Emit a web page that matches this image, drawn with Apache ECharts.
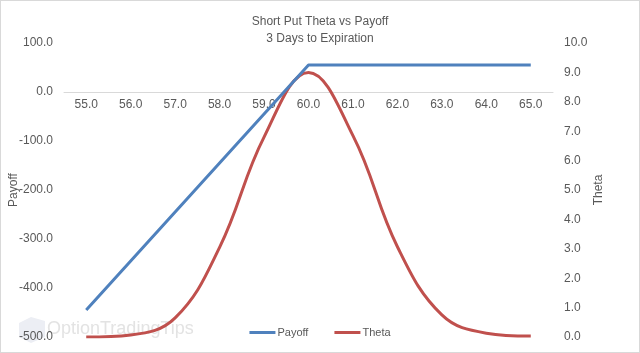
<!DOCTYPE html>
<html>
<head>
<meta charset="utf-8">
<script src="https://cdn.jsdelivr.net/npm/echarts@6/dist/echarts.min.js"></script>
<style>
html,body{margin:0;padding:0;background:#fff;}
#c{width:640px;height:353px;box-sizing:border-box;border:1px solid #d9d9d9;}
</style>
</head>
<body>
<div id="c"></div>
<script>
var categories = ['55.0','56.0','57.0','58.0','59.0','60.0','61.0','62.0','63.0','64.0','65.0'];
var payoff = [-445, -345, -245, -145, -45, 55, 55, 55, 55, 55, 55];
var theta = [0.0, 0.07, 0.65, 3.05, 6.8, 9.0, 6.85, 3.07, 0.75, 0.13, 0.03];
var payoffTicks = {min: -500, max: 100, interval: 100};
var thetaTicks = {min: 0, max: 10, interval: 1};

var FONT = 'Liberation Sans';
var chart = echarts.init(document.getElementById('c'), null, {renderer: 'canvas'});
var gridTop = 42, gridBottom = 15, chartH = 351;
var plotH = chartH - gridTop - gridBottom;
var zeroOffset = plotH * (payoffTicks.max - 0) / (payoffTicks.max - payoffTicks.min);
chart.setOption({
  animation: false,
  textStyle: {fontFamily: FONT},
  title: {
    text: 'Short Put Theta vs Payoff\n3 Days to Expiration',
    left: 'center',
    top: 7,
    textStyle: {fontFamily: FONT, fontSize: 12, fontWeight: 'normal', color: '#595959', lineHeight: 17}
  },
  graphic: [{
    type: 'polygon',
    z: 0,
    shape: {points: [[18, 322], [30, 316], [44, 320], [44, 336], [30, 342], [18, 336]]},
    style: {fill: '#eceef4'}
  }, {
    type: 'text',
    left: 46,
    top: 319,
    z: 0,
    style: {text: 'OptionTradingTips', fill: '#e3e3e3', font: '18px ' + FONT}
  }],
  legend: {
    bottom: 9,
    left: 'center',
    itemWidth: 26,
    itemHeight: 3,
    itemGap: 26,
    icon: 'rect',
    textStyle: {fontFamily: FONT, fontSize: 11, color: '#595959', padding: [0, 0, 0, -3]},
    data: ['Payoff', 'Theta']
  },
  grid: {left: 63, right: 86, top: gridTop, bottom: gridBottom, containLabel: false, outerBoundsMode: 'none'},
  xAxis: {
    type: 'category',
    data: categories,
    position: 'top',
    offset: -zeroOffset,
    boundaryGap: true,
    axisLine: {onZero: false, lineStyle: {color: '#d9d9d9', width: 1}},
    axisTick: {show: false},
    axisLabel: {inside: true, color: '#595959', fontSize: 12, margin: 7, fontFamily: FONT},
    splitLine: {show: false}
  },
  yAxis: [{
    type: 'value',
    min: payoffTicks.min, max: payoffTicks.max, interval: payoffTicks.interval,
    name: 'Payoff',
    nameLocation: 'middle',
    nameGap: 44,
    nameRotate: 90,
    nameMoveOverlap: false,
    nameTextStyle: {color: '#595959', fontSize: 12, fontFamily: FONT},
    axisLine: {show: false},
    axisTick: {show: false},
    splitLine: {show: false},
    axisLabel: {color: '#595959', fontSize: 12, margin: 11, fontFamily: FONT,
      formatter: function (v) { return v.toFixed(1); }}
  }, {
    type: 'value',
    position: 'right',
    min: thetaTicks.min, max: thetaTicks.max, interval: thetaTicks.interval,
    name: 'Theta',
    nameLocation: 'middle',
    nameGap: 40,
    nameRotate: 90,
    nameMoveOverlap: false,
    nameTextStyle: {color: '#595959', fontSize: 12, fontFamily: FONT},
    axisLine: {show: false},
    axisTick: {show: false},
    splitLine: {show: false},
    axisLabel: {color: '#595959', fontSize: 12, margin: 11, fontFamily: FONT,
      formatter: function (v) { return v.toFixed(1); }}
  }],
  series: [{
    name: 'Payoff',
    type: 'line',
    yAxisIndex: 0,
    data: payoff,
    showSymbol: false,
    symbol: 'none',
    lineStyle: {color: '#4f81bd', width: 3},
    itemStyle: {color: '#4f81bd'},
    z: 3
  }, {
    name: 'Theta',
    type: 'line',
    yAxisIndex: 1,
    data: theta,
    smooth: 0.4,
    showSymbol: false,
    symbol: 'none',
    lineStyle: {color: '#c0504d', width: 3},
    itemStyle: {color: '#c0504d'},
    z: 2
  }]
});
</script>
</body>
</html>
